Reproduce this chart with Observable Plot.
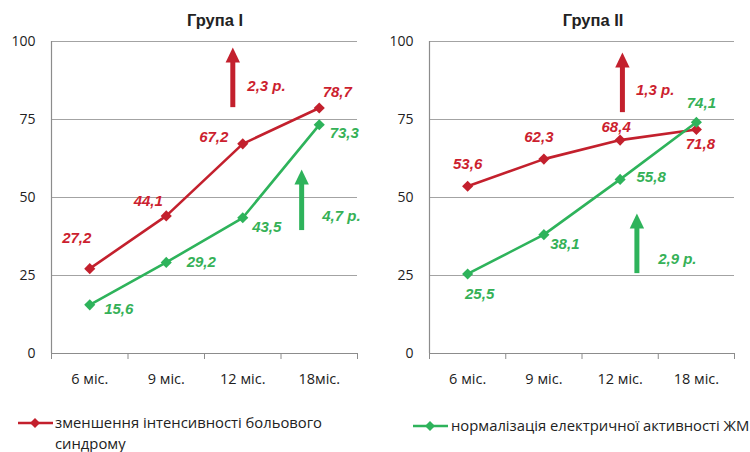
<!DOCTYPE html>
<html>
<head>
<meta charset="utf-8">
<script src="https://cdn.jsdelivr.net/npm/d3@7"></script>
<script src="https://cdn.jsdelivr.net/npm/@observablehq/plot@0.6"></script>
<style>
  html, body { margin: 0; padding: 0; background: #fff; }
  #wrap { position: relative; width: 750px; height: 452px; background: #fff; overflow: hidden; }
  .panel { position: absolute; top: 0; }
  .title { position: absolute; top: 11px; width: 160px; text-align: center; font: bold 16.5px "Liberation Sans", Arial, sans-serif; color: #222; }
  .legend { position: absolute; font: 14.8px "Open Sans", sans-serif; color: #222; line-height: 21px; }
  .legend svg { position: absolute; }
</style>
</head>
<body>
<div id="wrap">
  <div class="title" id="t1" style="left:135px"></div>
  <div class="title" id="t2" style="left:513px"></div>
  <div class="panel" id="p1" style="left:0px"></div>
  <div class="panel" id="p2" style="left:378px"></div>
  <div class="legend" id="l1" style="left:18px; top:412px; width:340px;"></div>
  <div class="legend" id="l2" style="left:413px; top:415px; width:340px;"></div>
</div>
<script>
// ---- data ----
const groups = ["Група І", "Група ІІ"];
const catsI = ["6 міс.", "9 міс.", "12 міс.", "18міс."];
const catsII = ["6 міс.", "9 міс.", "12 міс.", "18 міс."];
const seriesNames = ["зменшення інтенсивності больового синдрому", "нормалізація електричної активності ЖМ"];
const painI = [27.2, 44.1, 67.2, 78.7];
const emgI = [15.6, 29.2, 43.5, 73.3];
const painII = [53.6, 62.3, 68.4, 71.8];
const emgII = [25.5, 38.1, 55.8, 74.1];
const ratiosI = ["2,3 р.", "4,7 р."];
const ratiosII = ["1,3 р.", "2,9 р."];
const yTicks = [0, 25, 50, 75, 100];

// ---- layout (annotation placement: base, tip, label; pixel label offsets) ----
const arrowsI = [{x: 1.87, base: 78.8, tip: 98.1, tx: 2.31, ty: 85.6}, {x: 2.77, base: 39.4, tip: 59.0, tx: 3.29, ty: 43.9}];
const arrowsII = [{x: 2.03, base: 77.2, tip: 96.5, tx: 2.46, ty: 84.3}, {x: 2.22, base: 25.6, tip: 44.9, tx: 2.75, ty: 30.1}];
const offPainI = [[-13, -30], [-18, -15], [-29, -7], [18, -16]];
const offEmgI = [[29, 4], [35, 0], [24, 9], [25, 8]];
const offPainII = [[0, -22], [-5, -22], [-4, -13], [4, 15]];
const offEmgII = [[12, 20], [21, 10], [31, -2], [5, -19]];

const RED = "#c3202d";
const GREEN = "#2eb35b";
const RED_T = "#cc1f2f";
const GREEN_T = "#35b157";
const colors = [RED, GREEN];
const textColors = [RED_T, GREEN_T];
const fmt = v => v.toFixed(1).replace(".", ",");
const labelFont = {fontSize: 15, fontWeight: "bold", fontStyle: "italic", fontFamily: "'Liberation Sans', Arial, sans-serif"};

// arrow head: tip at the anchor point, base below it
const arrowHead = {
  draw(ctx) {
    ctx.moveTo(0, 0);
    ctx.lineTo(7.2, 15);
    ctx.lineTo(-7.2, 15);
    ctx.closePath();
  }
};

function panel(cats, series, offsets, arrows, ratios, width, marginRight) {
  const boundaries = d3.range(cats.length + 1).map(i => i - 0.5);
  const idx = d3.range(cats.length);
  const marks = [
    Plot.ruleY(yTicks.filter(t => t > 0), {stroke: "#a3a3a3", strokeWidth: 1}),
    Plot.ruleY([0], {stroke: "#8c8c8c", strokeWidth: 1.2}),
    Plot.ruleX([boundaries[0]], {stroke: "#8c8c8c", strokeWidth: 1.2}),
    Plot.axisX(boundaries, {tickSize: 6, tickFormat: () => "", stroke: "#8c8c8c", label: null}),
    Plot.axisX(idx, {tickSize: 0, tickPadding: 20, tickFormat: i => cats[i], label: null, fontSize: 14.5, fill: "#222"}),
    Plot.axisY(yTicks, {tickSize: 0, tickPadding: 16, label: null, fontSize: 14, fill: "#222"})
  ];
  arrows.forEach((a, k) => {
    marks.push(Plot.ruleX([a], {x: "x", y1: "tip", y2: "base", stroke: colors[k], strokeWidth: 5, insetTop: 12}));
    marks.push(Plot.dot([a], {x: "x", y: "tip", symbol: arrowHead, r: 5, fill: colors[k], stroke: "none"}));
    marks.push(Plot.text([a], {x: "tx", y: "ty", text: () => ratios[k], fill: textColors[k], ...labelFont}));
  });
  series.forEach((vals, s) => {
    const data = vals.map((v, i) => ({i, v}));
    marks.push(Plot.line(data, {x: "i", y: "v", stroke: colors[s], strokeWidth: 2.6}));
    marks.push(Plot.dot(data, {x: "i", y: "v", symbol: "diamond2", r: 5, fill: colors[s], stroke: "none"}));
    data.forEach((d, i) => {
      marks.push(Plot.text([d], {x: "i", y: "v", text: dd => fmt(dd.v), dx: offsets[s][i][0], dy: offsets[s][i][1], fill: textColors[s], ...labelFont}));
    });
  });
  return Plot.plot({
    width, height: 400,
    marginLeft: 51, marginRight, marginTop: 41, marginBottom: 47,
    x: {type: "linear", domain: [boundaries[0], boundaries[boundaries.length - 1]]},
    y: {domain: [0, 100]},
    style: {fontFamily: "'Open Sans', sans-serif", fontSize: "13px", color: "#222", background: "transparent"},
    marks
  });
}

document.getElementById("p1").append(panel(catsI, [painI, emgI], [offPainI, offEmgI], arrowsI, ratiosI, 375, 18));
document.getElementById("p2").append(panel(catsII, [painII, emgII], [offPainII, offEmgII], arrowsII, ratiosII, 372, 16));
document.getElementById("t1").textContent = groups[0];
document.getElementById("t2").textContent = groups[1];

function legendSymbol(color) {
  return `<svg width="36" height="12" style="left:0; top:5px"><line x1="0" y1="6" x2="35" y2="6" stroke="${color}" stroke-width="2.6"/><path d="M17,1 L22,6 L17,11 L12,6 Z" fill="${color}"/></svg>`;
}
const words = seriesNames[0].split(" ");
document.getElementById("l1").innerHTML = legendSymbol(RED) + `<div style="margin-left:37px">${words.slice(0, 3).join(" ")}<br>${words.slice(3).join(" ")}</div>`;
document.getElementById("l2").innerHTML = legendSymbol(GREEN) + `<div style="margin-left:38px; white-space:nowrap">${seriesNames[1]}</div>`;
</script>
</body>
</html>
